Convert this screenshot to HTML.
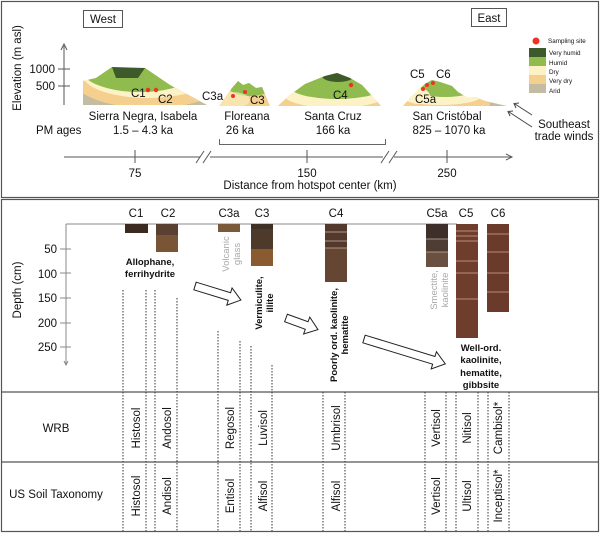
<!DOCTYPE html>
<html><head><meta charset="utf-8"><style>
html,body{margin:0;padding:0;background:#fff}
svg{display:block}
text{font-family:"Liberation Sans",Arial,sans-serif;fill:#111}
.b{font-weight:bold;font-size:9.5px}
.g{fill:#a8a8a8;font-size:9.5px}
.s{font-size:11.5px}
</style></head><body>
<svg width="600" height="533" viewBox="0 0 600 533" xmlns="http://www.w3.org/2000/svg">
<defs>
<clipPath id="m1"><path d="M83,105 L83,81 L96,78 L112,67 L145,68 L170,85 L207,105 Z"/></clipPath>
<clipPath id="m2"><path d="M219,106 L232,88 L238,81 L243,85 L249,83 L256,88 L262,87 L270,106 Z"/></clipPath>
<clipPath id="m3"><path d="M278,106 L290,95 L305,84 L325,76 L337,73 L350,78 L362,85 L381,106 Z"/></clipPath>
<clipPath id="m4"><path d="M403,106 L412,96 L425,84 L432,80 L440,82 L452,86 L458,92 L468,98 L475,97 L485,101 L507,106 Z"/></clipPath>
</defs>
<rect x="1.5" y="1.5" width="597" height="196" fill="none" stroke="#555" stroke-width="1.2"/>
<rect x="1.5" y="199.5" width="597" height="332" fill="none" stroke="#555" stroke-width="1.2"/>
<line x1="1" y1="392" x2="599" y2="392" stroke="#555" stroke-width="1.2"/>
<line x1="1" y1="462" x2="599" y2="462" stroke="#555" stroke-width="1.2"/>

<rect x="83.5" y="10.5" width="39" height="17" fill="#fff" stroke="#555"/>
<text x="103" y="23" text-anchor="middle" class="s">West</text>
<rect x="471.5" y="8.5" width="35" height="18" fill="#fff" stroke="#555"/>
<text x="489" y="22" text-anchor="middle" class="s">East</text>

<line x1="64" y1="46" x2="64" y2="105" stroke="#555"/>
<path d="M61,50 L64,44 L67,50" fill="none" stroke="#555"/>
<line x1="58" y1="69" x2="70" y2="69" stroke="#555"/>
<line x1="58" y1="86" x2="70" y2="86" stroke="#555"/>
<text x="55" y="73" text-anchor="end" class="s">1000</text>
<text x="55" y="90" text-anchor="end" class="s">500</text>
<text transform="translate(21,68) rotate(-90)" text-anchor="middle" class="s">Elevation (m asl)</text>

<g clip-path="url(#m1)">
<rect x="80" y="60" width="130" height="50" fill="#c4bca2"/>
<ellipse cx="150" cy="78" rx="78" ry="30" fill="#f5cf8e"/>
<ellipse cx="148" cy="74" rx="66" ry="24" fill="#fcf2c6"/>
<ellipse cx="140" cy="70" rx="58" ry="22" fill="#8fbb4f"/>
<path d="M112,67 L145,68 L138,78 L116,78 Z" fill="#3e5a2b"/>
</g>
<circle cx="148" cy="90" r="2.2" fill="#e32"/><circle cx="156" cy="90" r="2.2" fill="#e32"/>
<text x="131" y="97" class="s">C1</text><text x="158" y="103" class="s">C2</text>

<g clip-path="url(#m2)">
<rect x="215" y="75" width="60" height="35" fill="#f5cf8e"/>
<ellipse cx="250" cy="86" rx="22" ry="10" fill="#8fbb4f"/>
<ellipse cx="232" cy="100" rx="18" ry="8" fill="#fcf2c6" opacity="0.6"/>
</g>
<circle cx="233" cy="96" r="2" fill="#e32"/><circle cx="245" cy="92" r="2" fill="#e32"/>
<text x="202" y="100" class="s">C3a</text><text x="250" y="104" class="s">C3</text>

<g clip-path="url(#m3)">
<rect x="275" y="70" width="110" height="40" fill="#c4bca2"/>
<ellipse cx="330" cy="100" rx="60" ry="17" fill="#f5cf8e"/>
<ellipse cx="335" cy="94" rx="52" ry="14" fill="#fcf2c6"/>
<ellipse cx="337" cy="86" rx="48" ry="13" fill="#8fbb4f"/>
<ellipse cx="338" cy="76" rx="16" ry="6" fill="#3e5a2b"/>
</g>
<circle cx="351" cy="85" r="2.2" fill="#e32"/>
<text x="333" y="99" class="s">C4</text>

<g clip-path="url(#m4)">
<rect x="400" y="75" width="110" height="35" fill="#c4bca2"/>
<ellipse cx="440" cy="104" rx="50" ry="10" fill="#f5cf8e"/>
<ellipse cx="440" cy="97" rx="40" ry="8" fill="#fcf2c6"/>
<ellipse cx="445" cy="87" rx="32" ry="10" fill="#8fbb4f"/>
<ellipse cx="418" cy="96" rx="12" ry="8" fill="#fcf2c6"/>
</g>
<circle cx="423" cy="89" r="2" fill="#e32"/><circle cx="427" cy="85" r="2" fill="#e32"/><circle cx="433" cy="83" r="2" fill="#e32"/>
<text x="410" y="78" class="s">C5</text><text x="436" y="78" class="s">C6</text><text x="415" y="103" class="s">C5a</text>

<text x="143" y="120" text-anchor="middle" class="s">Sierra Negra, Isabela</text>
<text x="143" y="134" text-anchor="middle" class="s">1.5 – 4.3 ka</text>
<text x="36" y="134" class="s">PM ages</text>
<text x="247" y="120" text-anchor="middle" class="s">Floreana</text>
<text x="240" y="134" text-anchor="middle" class="s">26 ka</text>
<text x="333" y="120" text-anchor="middle" class="s">Santa Cruz</text>
<text x="333" y="134" text-anchor="middle" class="s">166 ka</text>
<text x="447" y="120" text-anchor="middle" class="s">San Cristóbal</text>
<text x="449" y="134" text-anchor="middle" class="s">825 – 1070  ka</text>
<path d="M219.5,139 L219.5,144.5 L385.5,144.5 L385.5,139" fill="none" stroke="#666"/>

<line x1="64" y1="157" x2="200" y2="157" stroke="#555"/>
<line x1="210" y1="157" x2="383" y2="157" stroke="#555"/>
<line x1="394" y1="157" x2="511" y2="157" stroke="#555"/>
<path d="M506,154 L512,157 L506,160" fill="none" stroke="#555"/>
<line x1="196" y1="163" x2="204" y2="151" stroke="#555"/><line x1="203" y1="163" x2="211" y2="151" stroke="#555"/>
<line x1="381" y1="163" x2="389" y2="151" stroke="#555"/><line x1="389" y1="163" x2="397" y2="151" stroke="#555"/>
<line x1="135" y1="150" x2="135" y2="163" stroke="#555"/>
<line x1="307" y1="150" x2="307" y2="163" stroke="#555"/>
<line x1="447" y1="150" x2="447" y2="163" stroke="#555"/>
<text x="135" y="177" text-anchor="middle" class="s">75</text>
<text x="307" y="177" text-anchor="middle" class="s">150</text>
<text x="447" y="177" text-anchor="middle" class="s">250</text>
<text x="310" y="189" text-anchor="middle" class="s">Distance from hotspot center (km)</text>

<circle cx="536" cy="41" r="3.5" fill="#e32"/>
<text x="548" y="43" font-size="6.3">Sampling site</text>
<rect x="529" y="48" width="17" height="9" fill="#3e5a2b"/>
<rect x="529" y="57" width="17" height="9" fill="#8fbb4f"/>
<rect x="529" y="66" width="17" height="9" fill="#fcf2c6"/>
<rect x="529" y="75" width="17" height="9" fill="#f5cf8e"/>
<rect x="529" y="84" width="17" height="9" fill="#c4bca2"/>
<g font-size="6.3"><text x="549" y="55">Very humid</text><text x="549" y="65">Humid</text><text x="549" y="74">Dry</text><text x="549" y="83">Very dry</text><text x="549" y="93">Arid</text></g>
<line x1="532" y1="115" x2="515" y2="104" stroke="#444"/><path d="M519,103 L514,103.5 L516,108" fill="none" stroke="#444"/>
<line x1="532" y1="127" x2="509" y2="112" stroke="#444"/><path d="M513,111 L508,111.5 L510,116" fill="none" stroke="#444"/>
<text x="564" y="128" text-anchor="middle" class="s">Southeast</text>
<text x="564" y="140" text-anchor="middle" class="s">trade winds</text>

<line x1="66" y1="224" x2="457" y2="224" stroke="#888"/>
<line x1="66" y1="224" x2="66" y2="364" stroke="#888"/>
<path d="M64,361 L66,365 L68,361" fill="none" stroke="#888"/>
<g stroke="#888"><line x1="60" y1="249" x2="71" y2="249"/><line x1="60" y1="273" x2="71" y2="273"/><line x1="60" y1="298" x2="71" y2="298"/><line x1="60" y1="323" x2="71" y2="323"/><line x1="60" y1="347" x2="71" y2="347"/></g>
<g text-anchor="end" class="s"><text x="57" y="253">50</text><text x="57" y="278">100</text><text x="57" y="302">150</text><text x="57" y="327">200</text><text x="57" y="351">250</text></g>
<text transform="translate(21,290) rotate(-90)" text-anchor="middle" class="s">Depth (cm)</text>

<g text-anchor="middle" class="s"><text x="136" y="217">C1</text><text x="168" y="217">C2</text><text x="229" y="217">C3a</text><text x="262" y="217">C3</text><text x="336" y="217">C4</text><text x="437" y="217">C5a</text><text x="466" y="217">C5</text><text x="498" y="217">C6</text></g>

<rect x="125" y="224" width="23" height="9" fill="#3b2a20"/>
<rect x="156" y="224" width="22" height="28" fill="#7a5535"/><rect x="156" y="224" width="22" height="11" fill="#5a4030"/>
<rect x="218" y="224" width="22" height="8" fill="#7a5a3a"/>
<rect x="251" y="224" width="22" height="42" fill="#8a5a30"/><rect x="251" y="224" width="22" height="25" fill="#4d3a2a"/><rect x="251" y="224" width="22" height="5" fill="#3e3025"/>
<rect x="325" y="224" width="22" height="58" fill="#654632"/><rect x="325" y="224" width="22" height="24" fill="#53392b"/>
<g stroke="#c8b0a0" stroke-width="0.8"><line x1="325" y1="232" x2="347" y2="232"/><line x1="325" y1="241" x2="347" y2="241"/><line x1="325" y1="248" x2="347" y2="248"/></g>
<rect x="426" y="224" width="22" height="43" fill="#6a5040"/><rect x="426" y="224" width="22" height="28" fill="#4d3d32"/><rect x="426" y="224" width="22" height="15" fill="#3d302a"/>
<g stroke="#c8b0a0" stroke-width="0.8"><line x1="426" y1="239" x2="448" y2="239"/><line x1="426" y1="252" x2="448" y2="252"/></g>
<rect x="456" y="224" width="22" height="114" fill="#6e3d2c"/>
<g stroke="#d0a898" stroke-width="0.8"><line x1="456" y1="231" x2="478" y2="231"/><line x1="456" y1="236" x2="478" y2="236"/><line x1="456" y1="241" x2="478" y2="241"/><line x1="456" y1="261" x2="478" y2="261"/><line x1="456" y1="273" x2="478" y2="273"/><line x1="456" y1="299" x2="478" y2="299"/></g>
<rect x="487" y="224" width="22" height="88" fill="#6a3a2a"/>
<g stroke="#d0a898" stroke-width="0.8"><line x1="487" y1="234" x2="509" y2="234"/><line x1="487" y1="252" x2="509" y2="252"/><line x1="487" y1="273" x2="509" y2="273"/><line x1="487" y1="292" x2="509" y2="292"/></g>

<text x="150" y="265" text-anchor="middle" class="b">Allophane,</text>
<text x="150" y="277" text-anchor="middle" class="b">ferrihydrite</text>
<text transform="translate(229,254) rotate(-90)" text-anchor="middle" class="g">Volcanic</text>
<text transform="translate(240,254) rotate(-90)" text-anchor="middle" class="g">glass</text>
<text transform="translate(262,303) rotate(-90)" text-anchor="middle" class="b">Vermiculite,</text>
<text transform="translate(273,303) rotate(-90)" text-anchor="middle" class="b">illite</text>
<text transform="translate(337,335) rotate(-90)" text-anchor="middle" class="b">Poorly ord. kaolinite,</text>
<text transform="translate(348,335) rotate(-90)" text-anchor="middle" class="b">hematite</text>
<text transform="translate(437,290) rotate(-90)" text-anchor="middle" class="g">Smectite,</text>
<text transform="translate(448,290) rotate(-90)" text-anchor="middle" class="g">kaolinite</text>
<g text-anchor="middle" class="b"><text x="481" y="351">Well-ord.</text><text x="481" y="363">kaolinite,</text><text x="481" y="376">hematite,</text><text x="481" y="388">gibbsite</text></g>

<g fill="#fff" stroke="#222" stroke-width="1">
<polygon transform="translate(195,286) rotate(17)" points="0,-4 36,-4 36,-9 48,0 36,9 36,4 0,4"/>
<polygon transform="translate(286,318) rotate(20)" points="0,-4 22,-4 22,-9 34,0 22,9 22,4 0,4"/>
<polygon transform="translate(364,339) rotate(17)" points="0,-4 73,-4 73,-9 85,0 73,9 73,4 0,4"/>
</g>

<g stroke="#333" stroke-width="1" stroke-dasharray="1.5,1.5">
<line x1="123" y1="290" x2="123" y2="531"/><line x1="146" y1="290" x2="146" y2="531"/><line x1="155" y1="290" x2="155" y2="531"/><line x1="177" y1="298" x2="177" y2="531"/>
<line x1="218" y1="331" x2="218" y2="531"/><line x1="240" y1="341" x2="240" y2="531"/><line x1="251" y1="346" x2="251" y2="531"/><line x1="272" y1="365" x2="272" y2="531"/>
<line x1="323" y1="392" x2="323" y2="531"/><line x1="345" y1="392" x2="345" y2="531"/>
<line x1="425" y1="392" x2="425" y2="531"/><line x1="446" y1="392" x2="446" y2="531"/><line x1="456" y1="392" x2="456" y2="531"/><line x1="478" y1="392" x2="478" y2="531"/><line x1="488" y1="392" x2="488" y2="531"/><line x1="509" y1="392" x2="509" y2="531"/>
</g>

<text x="56" y="432" text-anchor="middle" class="s">WRB</text>
<text x="56" y="498" text-anchor="middle" class="s">US Soil Taxonomy</text>
<g class="s" text-anchor="middle">
<text transform="translate(140,428) rotate(-90)">Histosol</text>
<text transform="translate(171,428) rotate(-90)">Andosol</text>
<text transform="translate(234,428) rotate(-90)">Regosol</text>
<text transform="translate(267,428) rotate(-90)">Luvisol</text>
<text transform="translate(340,428) rotate(-90)">Umbrisol</text>
<text transform="translate(440,428) rotate(-90)">Vertisol</text>
<text transform="translate(471,428) rotate(-90)">Nitisol</text>
<text transform="translate(502,428) rotate(-90)">Cambisol*</text>
<text transform="translate(140,496) rotate(-90)">Histosol</text>
<text transform="translate(171,496) rotate(-90)">Andisol</text>
<text transform="translate(234,496) rotate(-90)">Entisol</text>
<text transform="translate(267,496) rotate(-90)">Alfisol</text>
<text transform="translate(340,496) rotate(-90)">Alfisol</text>
<text transform="translate(440,496) rotate(-90)">Vertisol</text>
<text transform="translate(471,496) rotate(-90)">Ultisol</text>
<text transform="translate(502,496) rotate(-90)">Inceptisol*</text>
</g>
</svg>
</body></html>
